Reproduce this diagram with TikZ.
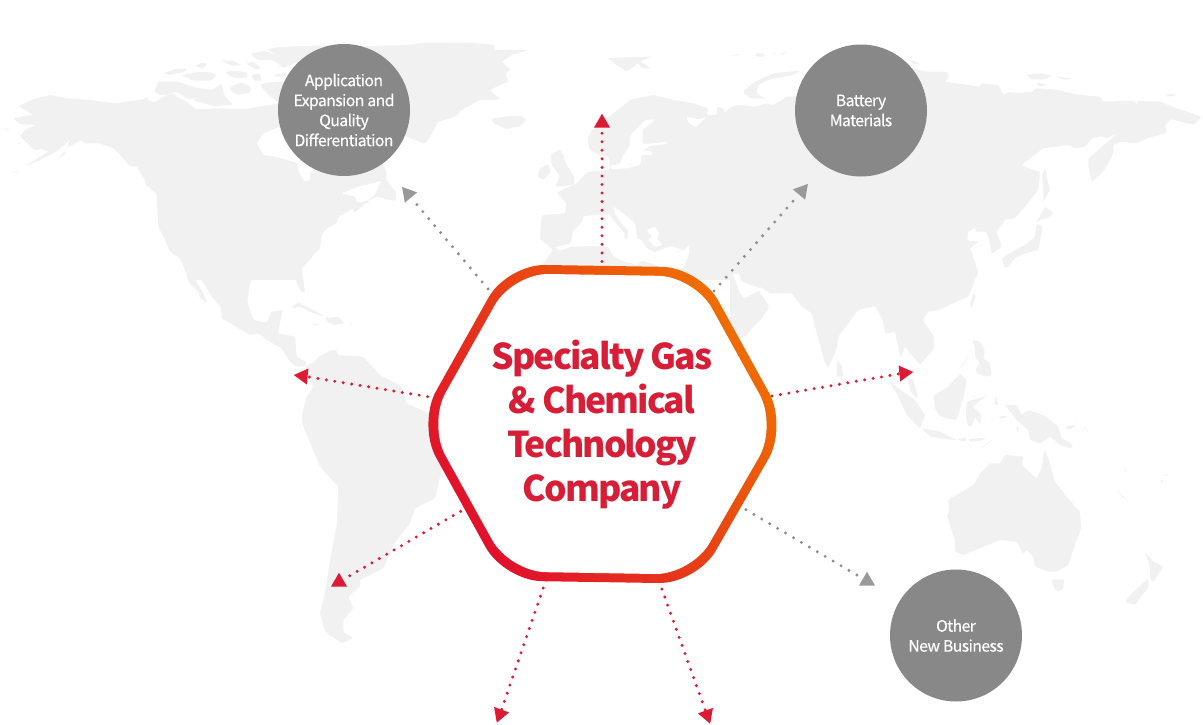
\documentclass[tikz,border=0pt]{standalone}
\usepackage{fontspec}
\setmainfont{Noto Sans CJK KR}
\newfontfamily\whitefont[LetterSpace=-3.8,FakeBold=0.25]{Noto Sans CJK KR}
\newfontfamily\titlefont[LetterSpace=-5.4]{Noto Sans CJK KR}
\usetikzlibrary{shapes.geometric}
\definecolor{land}{HTML}{F1F1F1}
\definecolor{hexred}{HTML}{E00E2C}
\definecolor{hexorange}{HTML}{F07000}
\definecolor{titlered}{HTML}{D81E36}
\definecolor{dotred}{HTML}{E11A30}
\definecolor{dotgray}{HTML}{8E8E8E}
\definecolor{trired}{HTML}{DC1A33}
\definecolor{trigray}{HTML}{999999}
\definecolor{circlegray}{HTML}{888888}
\tikzset{
  crop/.style 2 args={shift={(#1,#2)},x=0.33333pt,y=-0.33333pt},
  landfill/.style={fill=land,rounded corners=1.2pt},
  seafill/.style={fill=white,rounded corners=1pt},
  bubble/.style={circle,fill=circlegray,minimum size=132pt,inner sep=0pt,text=white,align=center,font=\whitefont\fontsize{15.8}{20}\selectfont},
  tiphead/.style={regular polygon,regular polygon sides=3,minimum size=18.5pt,inner sep=0pt,outer sep=0pt},
  redtip/.style={tiphead,fill=trired},
  graytip/.style={tiphead,fill=trigray},
  reddots/.style={draw=dotred,line width=3.3pt,line cap=round,dash pattern=on 0pt off 8.55pt},
  graydots/.style={draw=dotgray,line width=3.3pt,line cap=round,dash pattern=on 0pt off 9.2pt},
}
\newcommand\landpoly[1]{\path[landfill] plot[sharp plot] coordinates {#1} -- cycle;}
\newcommand\seapoly[1]{\path[seafill] plot[sharp plot] coordinates {#1} -- cycle;}
\begin{document}
\begin{tikzpicture}[x=1pt,y=-1pt]
\useasboundingbox (0,0) rectangle (1203,725);
% ---------- world map
\begin{scope}[crop={0}{40}]
\landpoly{(55,197) (100,178) (150,165) (200,175) (270,180) (345,190) (430,178) (437,170) (448,182) (465,186) (490,170) (520,160) (535,172) (578,197) (585,207) (630,207) (672,205) (735,207) (840,190) (900,400) (900,720) (570,720) (570,680) (540,650) (510,630) (475,560) (470,460) (437,435) (435,420) (408,378) (390,380) (370,355) (340,325) (300,310) (250,310) (245,300) (203,322) (208,300) (170,335) (130,355) (75,380) (120,350) (145,335) (130,328) (105,330) (90,318) (60,290) (75,270) (108,255) (60,252) (40,235) (70,228) (100,225)}
\landpoly{(175,352) (198,332) (195,345)}
\landpoly{(3,264) (30,268) (25,271)}
\landpoly{(48,308) (65,310) (55,312)}
\landpoly{(33,400) (58,390) (50,396)}
\landpoly{(462,155) (475,125) (535,125) (585,142) (635,150) (665,130) (672,165) (700,195) (640,198) (560,175) (530,155) (500,165) (480,165)}
\landpoly{(690,140) (725,128) (752,140) (750,158) (715,165) (690,150)}
\landpoly{(490,100) (525,88) (560,85) (555,95) (510,105)}
\landpoly{(545,105) (590,97) (625,95) (650,105) (635,122) (580,122)}
\landpoly{(585,78) (605,68) (622,72) (610,85)}
\landpoly{(662,62) (700,62) (725,75) (700,78)}
\landpoly{(675,95) (710,92) (740,97) (742,112) (710,115) (685,105)}
\landpoly{(738,70) (760,65) (785,85) (765,88)}
\landpoly{(755,105) (780,100) (785,122) (760,122)}
\landpoly{(820,105) (860,98) (860,110) (830,110)}
\landpoly{(752,42) (775,60) (820,60) (850,85) (880,70) (1040,60) (1040,15) (900,18) (830,22) (800,28) (830,45) (790,32)}
\landpoly{(780,135) (800,128) (850,125) (900,108) (1000,108) (1000,200) (880,190) (840,190) (800,160)}
\end{scope}
\begin{scope}[crop={150}{170}]
\landpoly{(0,55) (22,75) (25,160) (60,245) (90,265) (105,300) (118,340) (145,365) (150,385) (172,400) (168,385) (125,310) (122,292) (135,298) (185,380) (212,410) (215,445) (300,495) (325,490) (350,510) (395,535) (420,575) (440,590) (465,590) (470,578) (440,560) (435,500) (383,490) (398,420) (365,425) (350,458) (310,450) (292,395) (300,335) (330,315) (375,320) (405,308) (435,315) (440,340) (455,368) (465,365) (455,295) (510,235) (515,195) (530,175) (560,160) (565,140) (610,115) (610,130) (660,90) (680,80) (700,85) (720,90) (738,92) (738,65) (708,30) (710,10) (700,-20) (660,-20) (0,-20)}
\landpoly{(425,410) (445,398) (480,415) (525,440) (490,430) (450,410) (430,415)}
\landpoly{(525,445) (565,440) (582,460) (550,465) (530,455)}
\landpoly{(485,460) (505,462) (500,467)}
\landpoly{(595,460) (612,462) (600,465)}
\end{scope}
\begin{scope}[crop={280}{250}]
\landpoly{(75,348) (105,335) (115,320) (160,298) (175,305) (170,315) (250,320) (300,375) (365,410) (380,460) (448,490) (500,560) (490,640) (465,745) (405,775) (390,820) (340,885) (310,955) (240,990) (240,1010) (205,1040) (220,1075) (190,1110) (190,1145) (220,1165) (185,1180) (135,1145) (120,1090) (135,1030) (150,930) (170,830) (175,710) (120,650) (70,530) (65,500) (80,440) (100,410) (85,385)}
\end{scope}
\begin{scope}[crop={380}{40}]
\landpoly{(85,15) (130,8) (200,8) (300,10) (345,15) (340,30) (445,30) (395,45) (365,65) (392,90) (375,100) (385,125) (360,135) (330,150) (360,178) (325,180) (300,180) (245,210) (225,230) (175,245) (150,290) (135,312) (105,300) (80,290) (-100,200) (-100,20)}
\landpoly{(335,235) (365,232) (390,228) (425,228) (438,240) (420,258) (380,267) (350,255) (340,250)}
\landpoly{(512,345) (540,328) (550,345) (555,365) (585,415) (580,435) (525,440) (540,410) (530,395) (515,375)}
\landpoly{(472,410) (480,385) (505,372) (512,395) (490,420)}
\end{scope}
\begin{scope}[crop={510}{40}]
\landpoly{(100,720) (88,685) (115,650) (128,628) (90,595) (95,525) (165,520) (170,490) (140,458) (200,430) (230,397) (300,388) (300,375) (295,350) (270,345) (240,330) (232,300) (245,270) (290,235) (330,205) (360,180) (430,165) (490,180) (550,190) (595,205) (590,225) (620,225) (622,200) (645,208) (640,220) (665,200) (690,195) (735,200) (770,190) (790,195) (830,170) (1180,150) (1180,720)}
\landpoly{(292,55) (350,52) (425,50) (390,65) (425,85) (395,85) (385,70) (350,95) (320,75)}
\landpoly{(660,47) (690,42) (685,46)}
\landpoly{(735,40) (760,40) (765,50) (740,50)}
\landpoly{(778,42) (800,40) (795,44)}
\landpoly{(808,40) (830,38) (825,43)}
\landpoly{(698,155) (735,125) (790,100) (870,92) (850,105) (780,118) (745,135) (740,160) (785,185) (768,175) (720,175)}
\end{scope}
\begin{scope}[crop={900}{50}]
\landpoly{(0,60) (40,55) (80,65) (140,65) (148,80) (135,95) (180,102) (240,110) (245,100) (295,105) (310,135) (330,125) (350,130) (400,125) (405,115) (460,118) (540,135) (600,140) (610,155) (700,152) (715,165) (710,152) (780,155) (830,175) (905,200) (880,225) (815,207) (795,225) (800,248) (740,265) (710,280) (665,275) (640,285) (640,310) (622,345) (605,370) (575,395) (565,350) (565,325) (600,295) (630,270) (650,250) (620,265) (605,258) (575,265) (555,290) (525,295) (505,285) (430,295) (365,345) (385,355) (420,365) (415,420) (375,470) (345,505) (315,510) (290,545) (305,590) (275,612) (268,570) (258,545) (225,545) (228,532) (205,545) (185,555) (205,572) (235,575) (205,600) (230,660) (210,720) (0,720)}
\landpoly{(435,352) (445,400) (450,420) (430,455) (430,400) (425,380)}
\landpoly{(435,470) (462,490) (440,505) (420,510) (408,515) (420,500)}
\landpoly{(410,520) (428,530) (415,600) (375,610) (345,625) (325,650) (315,655) (305,625) (345,600) (375,585) (405,560)}
\landpoly{(380,75) (420,70) (458,78) (430,88) (395,88)}
\landpoly{(470,80) (515,85) (495,90)}
\landpoly{(410,97) (445,105) (415,110)}
\landpoly{(795,135) (815,130) (830,135) (805,140)}
\landpoly{(25,30) (60,38) (45,45)}
\end{scope}
\begin{scope}[crop={730}{230}]
\landpoly{(0,0) (715,0) (712,30) (745,125) (715,200) (625,240) (595,245) (578,270) (612,320) (612,355) (570,405) (525,350) (512,385) (495,305) (465,312) (460,275) (435,228) (385,240) (325,320) (322,350) (295,415) (285,400) (255,290) (245,250) (215,230) (185,190) (120,190) (90,170) (85,180) (118,230) (95,265) (45,320) (25,325) (0,300)}
\landpoly{(320,390) (335,405) (340,440) (322,440)}
\landpoly{(730,192) (738,195) (725,235) (720,220)}
\end{scope}
\begin{scope}[crop={800}{340}]
\landpoly{(320,110) (340,120) (355,175) (335,160)}
\landpoly{(265,120) (295,145) (345,180) (375,225) (360,265) (320,225) (290,160)}
\landpoly{(365,265) (420,275) (470,300) (440,298) (390,290)}
\landpoly{(470,298) (500,293) (495,305)}
\landpoly{(505,297) (560,293) (540,303) (510,305)}
\landpoly{(500,310) (518,322) (508,318)}
\landpoly{(540,328) (580,298) (560,310)}
\landpoly{(480,100) (500,120) (490,175) (475,220) (470,240) (420,230) (405,205) (400,168) (445,140)}
\landpoly{(480,85) (505,45) (490,75)}
\landpoly{(500,185) (560,168) (535,185) (518,200) (545,225) (540,255) (525,230) (515,260) (503,258) (498,225)}
\landpoly{(585,165) (595,195) (585,195)}
\landpoly{(515,0) (540,5) (555,30) (550,55) (570,70) (575,105) (555,110) (530,100) (527,85) (540,70) (525,50) (525,20)}
\landpoly{(615,195) (650,195) (665,225) (685,210) (735,228) (775,260) (785,295) (820,315) (810,325) (780,315) (750,290) (720,310) (690,300) (685,270) (650,240) (630,215)}
\landpoly{(570,232) (582,235) (578,238)}
\landpoly{(590,232) (620,226) (615,235)}
\landpoly{(650,258) (658,265) (650,280)}
\landpoly{(795,260) (825,255) (830,240) (820,265) (800,268)}
\landpoly{(852,255) (867,278) (858,270)}
\landpoly{(445,480) (495,450) (525,430) (540,400) (570,370) (600,370) (615,345) (670,350) (665,375) (710,415) (725,385) (733,330) (745,355) (765,425) (800,470) (840,515) (843,565) (825,615) (805,675) (770,695) (745,695) (705,680) (700,650) (680,630) (670,642) (650,605) (600,600) (540,625) (490,645) (465,635) (465,600) (440,525) (447,520)}
\landpoly{(755,718) (792,718) (790,745) (775,755) (762,745)}
\landpoly{(1035,635) (1060,665) (1090,680) (1060,727) (1050,715) (1050,680)}
\landpoly{(1045,715) (1045,740) (1005,795) (975,785) (1000,755)}
\landpoly{(972,380) (985,402) (976,392)}
\landpoly{(952,450) (978,478) (965,470)}
\landpoly{(1090,407) (1107,400) (1100,408)}
\landpoly{(1082,418) (1092,425) (1086,428)}
\end{scope}
% seas laid over the land
\begin{scope}[crop={0}{40}]
\seapoly{(835,262) (790,280) (770,310) (790,345) (830,350) (895,370) (895,395) (915,425) (930,420) (932,395) (1000,390) (1000,262)}
\seapoly{(575,197) (632,199) (630,206) (585,206)}
\seapoly{(672,199) (735,199) (730,206) (680,206)}
\seapoly{(545,176) (590,176) (570,183)}
\end{scope}
\begin{scope}[crop={150}{170}]
\seapoly{(575,70) (625,50) (695,33) (672,78) (645,95) (622,98) (615,80)}
\end{scope}
\begin{scope}[crop={510}{40}]
\seapoly{(435,238) (405,240) (380,265) (362,285) (358,320) (340,345) (330,370) (300,378) (305,388) (350,385) (390,375) (395,345) (428,345) (422,332) (398,332) (420,318) (472,312) (470,305) (430,310) (398,312) (398,270)}
\seapoly{(530,230) (565,238) (590,232) (575,245) (555,262) (535,248)}
\end{scope}
\begin{scope}[crop={540}{190}]
\seapoly{(45,172) (92,160) (100,122) (128,95) (130,78) (205,72) (232,105) (255,130) (252,145) (262,150) (265,118) (280,125) (292,145) (305,150) (320,175) (345,187) (375,175) (395,168) (430,182) (448,165) (448,190) (430,235) (375,235) (340,222) (305,212) (292,225) (255,215) (220,200) (205,170) (150,168) (95,170) (60,182)}
\seapoly{(220,50) (240,62) (285,100) (292,145) (275,125) (262,118) (245,100) (225,70)}
\seapoly{(320,120) (345,110) (358,130) (350,145) (368,165) (345,170) (325,150) (335,140)}
\seapoly{(578,252) (595,250) (605,275) (655,293) (665,296) (655,303) (612,325) (600,310) (590,280)}
\end{scope}
% ---------- tips and connectors
\node[graytip,rotate=40] (tipapp) at (408,194) {};
\node[graytip,rotate=-40] (tipbat) at (802,191) {};
\node[redtip] (tiptop) at (602,123) {};
\node[redtip,rotate=84] (tipwest) at (303,376) {};
\node[redtip,rotate=-84] (tipeast) at (904,373) {};
\node[redtip] (tipsw) at (339,582) {};
\node[redtip,rotate=160] (tipssw) at (500,714) {};
\node[redtip,rotate=-160] (tipsse) at (707,715) {};
\node[graytip] (tipse) at (867,581) {};
\coordinate (hexapp) at (494,296);
\coordinate (hexbat) at (714,291);
\coordinate (hextop) at (602,270);
\coordinate (hexwest) at (436,398);
\coordinate (hexeast) at (772,396);
\coordinate (hexsw) at (468,507);
\coordinate (hexssw) at (546,580);
\coordinate (hexsse) at (659,581);
\coordinate (hexse) at (738,505);
\path[graydots] (hexapp) -- (tipapp);
\path[graydots] (hexbat) -- (tipbat);
\path[graydots] (hexse) -- (tipse);
\path[reddots] (hextop) -- (tiptop);
\path[reddots] (hexwest) -- (tipwest);
\path[reddots] (hexeast) -- (tipeast);
\path[reddots] (hexsw) -- (tipsw);
\path[reddots] (hexssw) -- (tipssw);
\path[reddots] (hexsse) -- (tipsse);
% ---------- hexagon
\path[top color=hexorange,bottom color=hexred,shading angle=-54,rounded corners=38pt]
  (417.6,424) -- (507.1,264.4) -- (699.9,267.4) -- (787.4,426) -- (696.9,583.6) -- (504.1,580.6) -- cycle;
\path[fill=white,rounded corners=36pt]
  (428,424) -- (512.7,273.4) -- (694.3,276.4) -- (777,426) -- (691.3,574.6) -- (509.7,571.6) -- cycle;
\node[text=titlered,align=center,font=\titlefont\bfseries\fontsize{35.5}{44}\selectfont] (title) at (602,425) {Specialty Gas\\\& Chemical\\Technology\\Company};
% ---------- bubbles
\node[bubble] (app) at (344,110) {Application\\Expansion and\\Quality\\Differentiation};
\node[bubble] (bat) at (861,110.5) {Battery\\Materials};
\node[bubble] (oth) at (956,635.5) {Other\\New Business};
\end{tikzpicture}
\end{document}
